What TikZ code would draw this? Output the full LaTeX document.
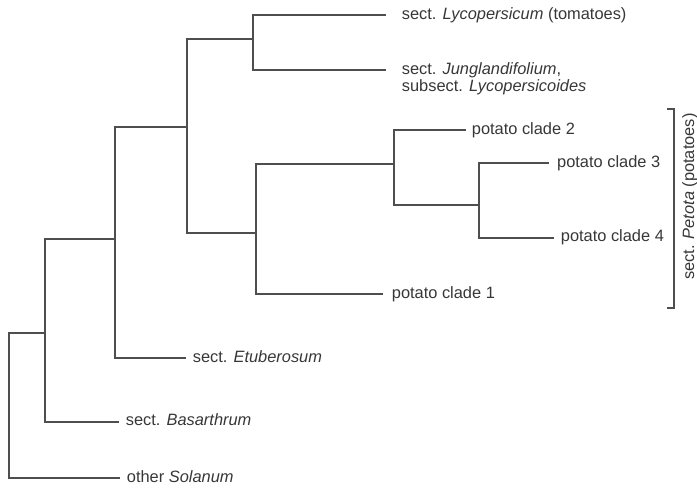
\documentclass[tikz,border=0pt]{standalone}
\usepackage{fontspec}
\setmainfont{Liberation Sans}
\definecolor{linegray}{RGB}{78,78,78}
\definecolor{textgray}{RGB}{55,55,55}
\tikzset{
  branch/.style={draw=linegray, line width=1.9pt, line cap=rect},
  lab/.style={anchor=west, inner sep=0pt, text=textgray, font=\fontsize{16.4}{17}\selectfont,
              text height=11.8pt, text depth=3.6pt},
}
\begin{document}
\begin{tikzpicture}[x=1pt, y=-1pt]
\useasboundingbox (0,0) rectangle (697,489);
% internal nodes (x of vertical bar, y of connection to parent)
\coordinate (nR) at (9.3,333.3);
\coordinate (nA) at (45,333.3);
\coordinate (nB) at (115,239.3);
\coordinate (nC) at (187.3,126.7);
\coordinate (nD) at (252.7,39.3);
\coordinate (nE) at (256,233.3);
\coordinate (nF) at (394.3,164);
\coordinate (nG) at (479,205);
% tips
\coordinate (tLyc) at (385,15);
\coordinate (tJun) at (385,70);
\coordinate (tC2) at (465,130.3);
\coordinate (tC3) at (548,163.3);
\coordinate (tC4) at (553,237.7);
\coordinate (tC1) at (381.7,294.3);
\coordinate (tEtu) at (185,358.3);
\coordinate (tBas) at (118.3,421.7);
\coordinate (tSol) at (119,478.3);
% labels
\node[lab] (lLyc) at (401.7,15) {sect. \textit{Lycopersicum} (tomatoes)};
\node[lab, anchor=north west, align=left, text height=, text depth=] (lJun) at (401.7,62.3)
  {sect. \textit{Junglandifolium},\\subsect. \textit{Lycopersicoides}};
\node[lab] (lC2) at (471.7,130.3) {potato clade 2};
\node[lab] (lC3) at (557,163.3) {potato clade 3};
\node[lab] (lC4) at (560.7,237.7) {potato clade 4};
\node[lab] (lC1) at (391.7,294.3) {potato clade 1};
\node[lab] (lEtu) at (192.7,358.3) {sect. \textit{Etuberosum}};
\node[lab] (lBas) at (125.7,421.7) {sect. \textit{Basarthrum}};
\node[lab] (lSol) at (126.7,478.3) {other \textit{Solanum}};
% tree
\draw[branch] (nR) -- (nA);
\draw[branch] (nR) |- (tSol);
\draw[branch] (nA) |- (nB);
\draw[branch] (nA) |- (tBas);
\draw[branch] (nB) |- (nC);
\draw[branch] (nB) |- (tEtu);
\draw[branch] (nC) |- (nD);
\draw[branch] (nC) |- (nE);
\draw[branch] (nD) |- (tLyc);
\draw[branch] (nD) |- (tJun);
\draw[branch] (nE) |- (nF);
\draw[branch] (nE) |- (tC1);
\draw[branch] (nF) |- (tC2);
\draw[branch] (nF) |- (nG);
\draw[branch] (nG) |- (tC3);
\draw[branch] (nG) |- (tC4);
% bracket
\coordinate (bTop) at (667,109.3);
\coordinate (bBot) at (667,307.7);
\draw[branch, line cap=butt] (bTop) -- ++(7.3,0) |- (bBot);
\node[lab, anchor=center, rotate=90, text height=, text depth=] (lPet) at (690,196.7)
  {sect. \textit{Petota} (potatoes)};
\end{tikzpicture}
\end{document}
